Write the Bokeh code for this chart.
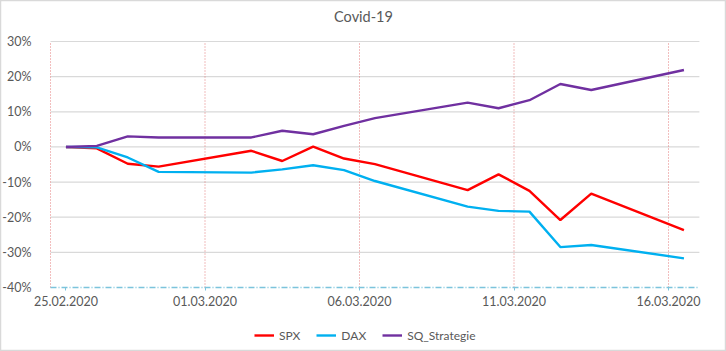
from datetime import datetime
from bokeh.plotting import figure
from bokeh.models import (ColumnDataSource, FixedTicker, Legend, LegendItem,
                          NumeralTickFormatter, Label)
from bokeh.embed import file_html
from bokeh.resources import INLINE

# ---- data ----
dates = ["25.02.2020", "26.02.2020", "27.02.2020", "28.02.2020", "02.03.2020",
         "03.03.2020", "04.03.2020", "05.03.2020", "06.03.2020", "09.03.2020",
         "10.03.2020", "11.03.2020", "12.03.2020", "13.03.2020", "16.03.2020"]
spx = [0.000, -0.004, -0.048, -0.056, -0.011, -0.040, 0.001, -0.033, -0.049,
       -0.123, -0.078, -0.125, -0.208, -0.133, -0.237]
dax = [0.000, -0.001, -0.030, -0.071, -0.073, -0.064, -0.052, -0.066, -0.097,
       -0.170, -0.182, -0.184, -0.285, -0.279, -0.317]
sq = [0.000, 0.003, 0.030, 0.027, 0.027, 0.046, 0.036, 0.060, 0.082,
      0.126, 0.110, 0.133, 0.179, 0.162, 0.219]
tick_labels = ["25.02.2020", "01.03.2020", "06.03.2020", "11.03.2020", "16.03.2020"]
y_ticks = [-0.4, -0.3, -0.2, -0.1, 0.0, 0.1, 0.2, 0.3]
series_names = ["SPX", "DAX", "SQ_Strategie"]
title_text = "Covid-19"
colors = ["#FF0000", "#00B0F0", "#7030A0"]

FONT = "Lato"
GREY = "#595959"

# ---- layout (pixels) ----
W, H = 726, 351
PLOT_L, PLOT_TOP, PLOT_BOT = 50, 41, 287      # plot area in the picture
DAYS = 21                                     # visible span of the date axis
PX_PER_DAY = 30.9
Y_MIN, Y_MAX = y_ticks[0], y_ticks[-1]
PX_PER_UNIT = (PLOT_BOT - PLOT_TOP) / (Y_MAX - Y_MIN)

x_lo = -PLOT_L / PX_PER_DAY
x_hi = (W - PLOT_L) / PX_PER_DAY
y_hi = Y_MAX + PLOT_TOP / PX_PER_UNIT
y_lo = Y_MIN - (H - PLOT_BOT) / PX_PER_UNIT

start = datetime.strptime(dates[0], "%d.%m.%Y")
def day(s):
    return (datetime.strptime(s, "%d.%m.%Y") - start).days

x = [day(d) + 0.5 for d in dates]
grid_ticks = [day(t) for t in tick_labels]
label_ticks = [max(t, 0.5) for t in grid_ticks]   # first label sits under first point

src = ColumnDataSource(dict(x=x, spx=spx, dax=dax, sq=sq))

p = figure(width=W, height=H, output_backend="svg", toolbar_location=None,
           x_range=(x_lo, x_hi), y_range=(y_lo, y_hi),
           min_border=0)
p.title = None
p.outline_line_color = "#D9D9D9"
p.outline_line_width = 1.5
p.background_fill_color = "white"
p.border_fill_color = "white"
p.xgrid.visible = False
p.ygrid.visible = False

# gridlines restricted to the plot area
gy = y_ticks[1:]
p.segment(x0=[0] * len(gy), x1=[DAYS] * len(gy), y0=gy, y1=gy,
          line_color="#D9D9D9", line_width=1.2)
p.segment(x0=grid_ticks, x1=grid_ticks, y0=[Y_MIN] * len(grid_ticks),
          y1=[Y_MAX] * len(grid_ticks), line_color="#E06666", line_alpha=0.85,
          line_dash="1 2", line_width=1)

renderers = []
for col, c in zip(["spx", "dax", "sq"], colors):
    r = p.line("x", col, source=src, line_color=c, line_width=2.4)
    renderers.append(r)

# y axis (inside the canvas at the left edge of the plot area)
p.yaxis.fixed_location = 0
p.yaxis.ticker = FixedTicker(ticks=y_ticks)
p.yaxis.formatter = NumeralTickFormatter(format="0%")
p.yaxis.axis_line_color = None
p.yaxis.major_tick_line_color = None
p.yaxis.minor_tick_line_color = None
p.yaxis.major_label_standoff = 13
p.yaxis.major_label_text_font = FONT
p.yaxis.major_label_text_font_size = "12.5px"
p.yaxis.major_label_text_color = GREY

# x axis at -40%
p.xaxis.fixed_location = Y_MIN
p.xaxis.bounds = (0, DAYS)
p.xaxis.ticker = FixedTicker(ticks=label_ticks)
p.xaxis.major_label_overrides = {t: l for t, l in zip(label_ticks, tick_labels)}
p.xaxis.axis_line_color = "#7CC4DC"
p.xaxis.axis_line_dash = "6 2 1 2"
p.xaxis.axis_line_width = 1.5
p.xaxis.major_tick_line_color = "#7CC4DC"
p.xaxis.major_tick_in = 0
p.xaxis.major_tick_out = 3
p.xaxis.minor_tick_line_color = None
p.xaxis.major_label_standoff = 5
p.xaxis.major_label_text_font = FONT
p.xaxis.major_label_text_font_size = "12.5px"
p.xaxis.major_label_text_color = GREY

# title
p.add_layout(Label(x=(363 - PLOT_L) / PX_PER_DAY, y=Y_MAX + (PLOT_TOP - 16) / PX_PER_UNIT,
                   text=title_text, text_align="center", text_baseline="middle",
                   text_font=FONT, text_font_size="14.5px", text_color=GREY))

legend = Legend(items=[LegendItem(label=n, renderers=[r]) for n, r in zip(series_names, renderers)],
                orientation="horizontal", location=(254, 8),
                label_text_font=FONT, label_text_font_size="12px",
                label_text_color=GREY, glyph_width=20, glyph_height=16,
                label_standoff=5, spacing=16, padding=0, margin=0,
                border_line_color=None, background_fill_alpha=0)
p.add_layout(legend, "center")

open("out.html", "w").write(file_html(p, INLINE))
